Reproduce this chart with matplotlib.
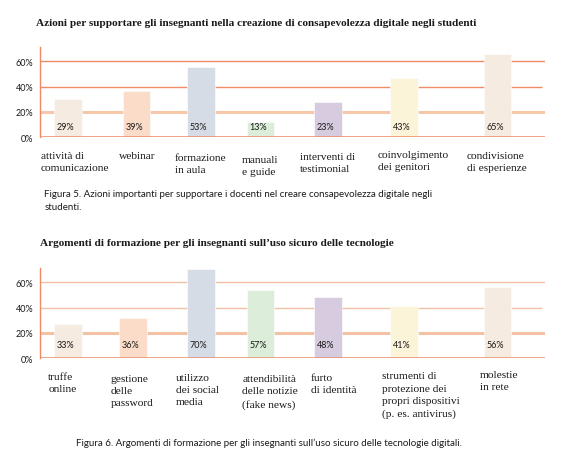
import matplotlib
matplotlib.use("Agg")
import matplotlib.pyplot as plt

# Figure 5 data
cats1 = ["attività di\ncomunicazione", "webinar", "formazione\nin aula", "manuali\ne guide",
         "interventi di\ntestimonial", "coinvolgimento\ndei genitori", "condivisione\ndi esperienze"]
bars1 = [30.5, 36.6, 55.3, 12.3, 27.6, 46.6, 66.0]   # drawn bar heights (%)
labels1 = [29, 39, 53, 13, 23, 43, 65]                # printed values (%)

# Figure 6 data
cats2 = ["truffe\nonline", "gestione\ndelle\npassword", "utilizzo\ndei social\nmedia",
         "attendibilità\ndelle notizie\n(fake news)", "furto\ndi identità",
         "strumenti di\nprotezione dei\npropri dispositivi\n(p. es. antivirus)", "molestie\nin rete"]
bars2 = [27.1, 31.8, 70.5, 54.2, 48.7, 41.3, 56.6]
labels2 = [33, 36, 70, 57, 48, 41, 56]

colors = ["#f5ebe0", "#fadcc8", "#d6dce6", "#dcedd9", "#d7cbdf", "#fcf4d8", "#f5ebe0"]

title1 = "Azioni per supportare gli insegnanti nella creazione di consapevolezza digitale negli studenti"
title2 = "Argomenti di formazione per gli insegnanti sull\u2019uso sicuro delle tecnologie"
caption1 = ("Figura 5. Azioni importanti per supportare i docenti nel creare consapevolezza digitale negli\n"
            "studenti.")
caption2 = "Figura 6. Argomenti di formazione per gli insegnanti sull\u2019uso sicuro delle tecnologie digitali."

# layout (bar centres and label anchors, in bar-spacing units)
pos1 = [0, 1.04, 2.02, 2.92, 3.94, 5.09, 6.51]
pos2 = [0, 0.99, 2.02, 2.92, 3.94, 5.09, 6.51]
lab_x1 = [-0.412, 0.779, 1.623, 2.642, 3.517, 4.694, 6.042]
lab_x2 = [-0.297, 0.648, 1.633, 2.642, 3.679, 4.759, 6.244]
lab_y1 = [-14.7, -14.7, -15.9, -17.2, -15.0, -13.4, -14.7]
lab_y2 = [-14.5, -16.1, -15.3, -16.1, -15.3, -14.0, -12.6]

SERIF = "Liberation Serif"
SANS = "Lato"
XMIN, XMAX = -0.418, 7.229
WIDTH = 0.42


def draw_chart(ax, pos, bars, labels, cats, lab_x, lab_y, grid_dark, grid_light, zero_col, val_y):
    # grid lines behind the bars
    for v in (40, 60):
        end = XMAX - 0.04 if v == 40 else XMAX
        ax.hlines(v, XMIN, end, color=grid_dark, lw=1.0, zorder=1)
    ax.hlines(20, XMIN, XMAX, color=grid_light, lw=2.2, zorder=1)
    ax.hlines(0, XMIN, XMAX, color=zero_col, lw=1.1, zorder=3)

    ax.bar(pos, bars, width=WIDTH, color=colors, edgecolor="white", linewidth=0.4, zorder=2)
    for p, lab in zip(pos, labels):
        ax.text(p - WIDTH / 2 + 0.04, val_y, f"{lab}%", ha="left", va="center",
                fontsize=6.5, family=SANS, color="#1a1a1a", zorder=4)

    for x, y, c in zip(lab_x, lab_y, cats):
        ax.text(x, y + 3.6, c, ha="left", va="top", fontsize=8.2, family=SERIF,
                color="#1a1a1a", linespacing=1.45, clip_on=False)

    ax.set_xlim(XMIN, XMAX)
    ax.set_ylim(0, 71.05)
    ax.set_xticks([])
    ax.set_yticks([0, 20, 40, 60])
    ax.set_yticklabels(["0%", "20%", "40%", "60%"], family=SANS, fontsize=6.5, color="#1a1a1a")
    ax.tick_params(axis="y", length=0, pad=5)
    for s in ("top", "right", "bottom"):
        ax.spines[s].set_visible(False)
    ax.spines["left"].set_color("#ef8b62")
    ax.spines["left"].set_linewidth(1.0)


def main():
    fig = plt.figure(figsize=(5.62, 4.77), dpi=100)
    ax1 = fig.add_axes([0.0717, 0.7101, 0.898, 0.1887])
    ax2 = fig.add_axes([0.0717, 0.2468, 0.898, 0.1887])

    draw_chart(ax1, pos1, bars1, labels1, cats1, lab_x1, lab_y1,
               "#f08c65", "#f6c7a9", "#f08c65", 8.7)
    draw_chart(ax2, pos2, bars2, labels2, cats2, lab_x2, lab_y2,
               "#f3c1a4", "#f3c1a4", "#e88f6d", 10.5)

    fig.text(35.7 / 562, 1 - 24 / 477, title1, ha="left", va="center",
             fontsize=8.15, family=SERIF, weight="bold", color="#1a1a1a")
    fig.text(40.4 / 562, 1 - 243.3 / 477, title2, ha="left", va="center",
             fontsize=8.15, family=SERIF, weight="bold", color="#1a1a1a")
    fig.text(44.3 / 562, 1 - 200.8 / 477, caption1, ha="left", va="center",
             fontsize=7, family=SANS, color="#1a1a1a", linespacing=1.5)
    fig.text(76 / 562, 1 - 443.7 / 477, caption2, ha="left", va="center",
             fontsize=7, family=SANS, color="#1a1a1a")

    fig.savefig("out.png", dpi=100, facecolor="white")


if __name__ == "__main__":
    main()
